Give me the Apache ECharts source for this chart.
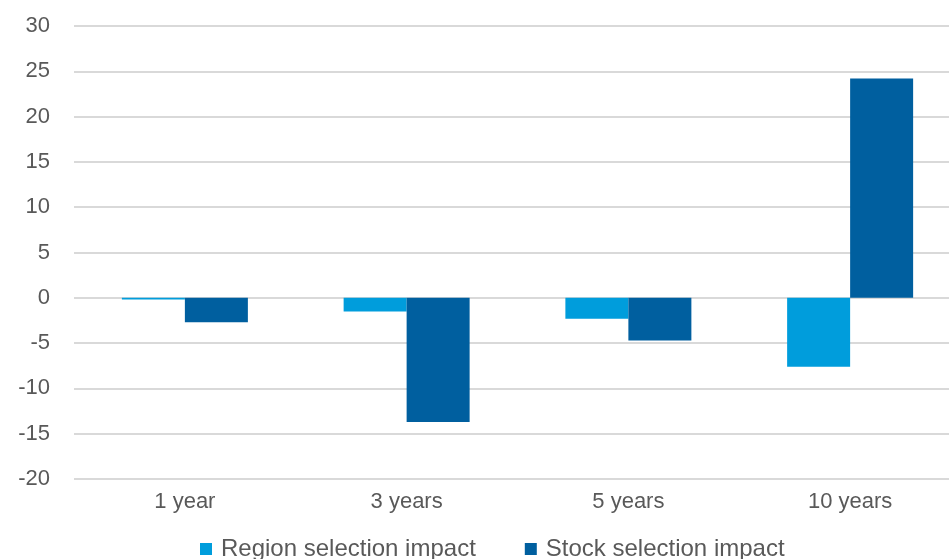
<!DOCTYPE html>
<html>
<head>
<meta charset="utf-8">
<script src="https://cdn.jsdelivr.net/npm/echarts@6/dist/echarts.min.js"></script>
<style>
html,body{margin:0;padding:0;background:#fff;overflow:hidden;width:949px;height:559px;}
#chart{width:961px;height:559px;}
</style>
</head>
<body>
<div id="chart"></div>
<script>
const categories = ['1 year', '3 years', '5 years', '10 years'];
const regionSelection = [-0.2, -1.5, -2.3, -7.6];
const stockSelection = [-2.7, -13.7, -4.7, 24.2];
const seriesNames = ['Region selection impact', 'Stock selection impact'];

const chart = echarts.init(document.getElementById('chart'));
const font = '"Liberation Sans", Arial, sans-serif';
chart.setOption({
  animation: false,
  grid: { left: 74, right: 0, top: 26, bottom: 80 },
  legend: {
    top: 532,
    left: 195,
    itemWidth: 12,
    itemHeight: 12,
    itemGap: 49,
    icon: 'rect',
    textStyle: { fontFamily: font, fontSize: 24, color: '#595959', padding: [0, 0, 0, 4] },
    data: seriesNames
  },
  xAxis: {
    type: 'category',
    data: categories,
    position: 'bottom',
    axisLine: { show: false, onZero: false },
    axisTick: { show: false },
    axisLabel: { fontFamily: font, fontSize: 22, color: '#595959', margin: 12 }
  },
  yAxis: {
    type: 'value',
    min: -20,
    max: 30,
    interval: 5,
    axisLine: { show: false },
    axisTick: { show: false },
    axisLabel: { fontFamily: font, fontSize: 22, color: '#595959', margin: 24 },
    splitLine: { lineStyle: { color: '#d9d9d9', width: 2 } }
  },
  series: [
    {
      name: seriesNames[0],
      type: 'bar',
      data: regionSelection,
      barWidth: 63,
      barGap: '0%',
      itemStyle: { color: '#009DDC' }
    },
    {
      name: seriesNames[1],
      type: 'bar',
      data: stockSelection,
      barWidth: 63,
      barGap: '0%',
      itemStyle: { color: '#005F9F' }
    }
  ]
});
</script>
</body>
</html>
